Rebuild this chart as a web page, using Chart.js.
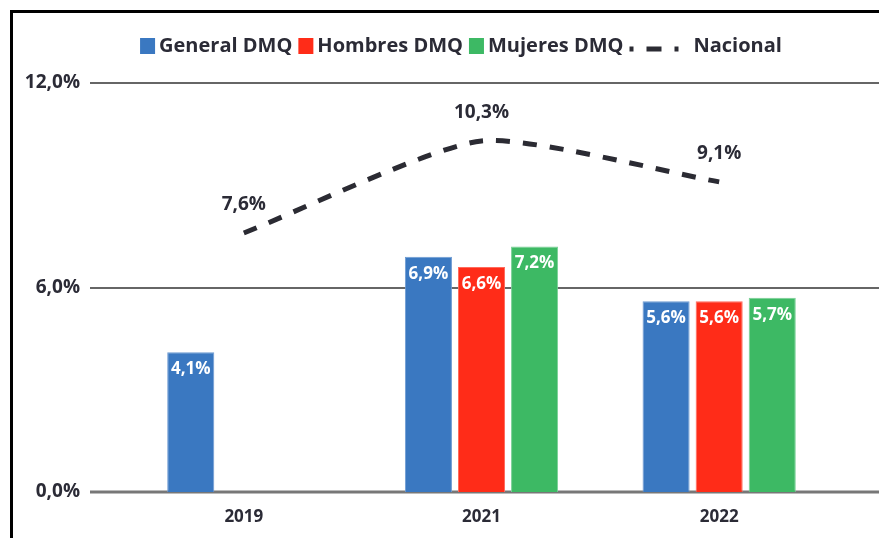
<!DOCTYPE html>
<html>
<head>
<meta charset="utf-8">
<script src="https://cdn.jsdelivr.net/npm/chart.js@4.4.1/dist/chart.umd.min.js"></script>
<style>
  html, body { margin: 0; padding: 0; background: #fff; }
  #wrap { position: relative; width: 879px; height: 538px; overflow: hidden; }
  #frame { position: absolute; left: 10px; top: 10px; right: -5px; bottom: -5px;
           border-left: 3px solid #000; border-top: 3px solid #000; pointer-events: none; }
</style>
</head>
<body>
<div id="wrap">
  <canvas id="chart" width="879" height="538"></canvas>
  <div id="frame"></div>
</div>
<script>
// Values
var categories = ['2019', '2021', '2022'];
var generalDMQ = [4.1, 6.9, 5.6];
var hombresDMQ = [null, 6.6, 5.6];
var mujeresDMQ = [null, 7.2, 5.7];
var nacional = [7.6, 10.3, 9.1];
var yTicks = [0, 6, 12];

var TEXT = '#2b2b36';
var FONT = '"Open Sans", "DejaVu Sans", sans-serif';

function pct(v) {
    return v.toFixed(1).replace('.', ',') + '%';
}

// Horizontal lines run past the plot area, like in the original
const gridLines = {
    id: 'gridLines',
    beforeDatasetsDraw(chart) {
        const ctx = chart.ctx;
        const y = chart.scales.y;
        ctx.save();
        for (let v of yTicks) {
            const py = Math.round(y.getPixelForValue(v));
            ctx.strokeStyle = v === 0 ? '#777' : '#666';
            ctx.lineWidth = v === 0 ? 3 : 2;
            ctx.beginPath();
            ctx.moveTo(90, py);
            ctx.lineTo(chart.width, py);
            ctx.stroke();
        }
        ctx.restore();
    }
};

// Value labels: white inside the bars, dark above the line
const valueLabels = {
    id: 'valueLabels',
    afterDatasetsDraw(chart) {
        const ctx = chart.ctx;
        ctx.save();
        ctx.textAlign = 'center';
        ctx.textBaseline = 'middle';
        chart.data.datasets.forEach((ds, i) => {
            const meta = chart.getDatasetMeta(i);
            meta.data.forEach((el, j) => {
                const v = ds.data[j];
                if (v === null || v === undefined) return;
                if (meta.type === 'bar') {
                    ctx.font = '700 17px ' + FONT;
                    ctx.fillStyle = '#fff';
                    ctx.fillText(pct(v), el.x, el.y + 17);
                } else {
                    ctx.font = '700 19px ' + FONT;
                    ctx.fillStyle = TEXT;
                    ctx.fillText(pct(v), el.x, el.y - 28);
                }
            });
        });
        ctx.restore();
    }
};

// Legend row at the top, the line item gets a dashed icon
const topLegend = {
    id: 'topLegend',
    afterDraw(chart) {
        const ctx = chart.ctx;
        const items = chart.data.datasets;
        ctx.save();
        ctx.font = '700 20px ' + FONT;
        let widths = items.map(ds => {
            const icon = ds.type === 'line' ? 49 + 15 : 15 + 4;
            return icon + ctx.measureText(ds.label).width;
        });
        let total = widths.reduce((a, b) => a + b, 0) + 6 * (items.length - 1);
        let x = 461 - total / 2;
        items.forEach((ds, i) => {
            if (ds.type === 'line') {
                ctx.strokeStyle = ds.borderColor;
                ctx.lineWidth = 5;
                ctx.setLineDash([15, 13]);
                ctx.lineDashOffset = 11;
                ctx.beginPath();
                ctx.moveTo(x, 49);
                ctx.lineTo(x + 49, 49);
                ctx.stroke();
                ctx.setLineDash([]);
                ctx.fillStyle = TEXT;
                ctx.textBaseline = 'alphabetic';
                ctx.fillText(ds.label, x + 64, 52);
            } else {
                ctx.fillStyle = ds.backgroundColor;
                ctx.fillRect(x, 38, 15, 16);
                ctx.fillStyle = TEXT;
                ctx.textBaseline = 'alphabetic';
                ctx.fillText(ds.label, x + 19, 52);
            }
            x += widths[i] + 6;
        });
        ctx.restore();
    }
};

const barStyle = { categoryPercentage: 0.67, barPercentage: 0.887, borderWidth: 1, borderSkipped: 'bottom' };

new Chart(document.getElementById('chart'), {
    data: {
        labels: categories,
        datasets: [
            Object.assign({ type: 'bar', label: 'General DMQ', data: generalDMQ,
                backgroundColor: '#3a78c1', borderColor: '#6d9ad2', order: 2 }, barStyle),
            Object.assign({ type: 'bar', label: 'Hombres DMQ', data: hombresDMQ,
                backgroundColor: '#ff2c18', borderColor: '#ff6a5c', order: 2 }, barStyle),
            Object.assign({ type: 'bar', label: 'Mujeres DMQ', data: mujeresDMQ,
                backgroundColor: '#3db964', borderColor: '#79d096', order: 2 }, barStyle),
            {
                type: 'line', label: 'Nacional', data: nacional,
                borderColor: '#2b2b33', backgroundColor: '#2b2b33',
                borderWidth: 5, borderDash: [14, 13], tension: 0.2,
                pointRadius: 0, fill: false, order: 1
            }
        ]
    },
    options: {
        responsive: false,
        devicePixelRatio: 1,
        animation: false,
        layout: { padding: { left: 20, right: 41, top: 83, bottom: 0 } },
        plugins: {
            legend: { display: false },
            tooltip: { enabled: false }
        },
        scales: {
            x: {
                grid: { display: false, drawTicks: false },
                border: { display: false },
                ticks: { color: TEXT, font: { family: FONT, size: 17, weight: '700' }, padding: 15 },
                afterFit(scale) { scale.height = 46; }
            },
            y: {
                min: 0,
                max: 12,
                grid: { display: false, drawTicks: false },
                border: { display: false },
                afterBuildTicks(scale) { scale.ticks = yTicks.map(v => ({ value: v })); },
                ticks: {
                    color: TEXT,
                    font: { family: FONT, size: 19, weight: '700' },
                    padding: 45,
                    callback: v => pct(v)
                },
                afterFit(scale) {
                    scale.width = 105;
                    // the big label gap should not eat into the plot height
                    scale.paddingTop = 0;
                    scale.paddingBottom = 0;
                }
            }
        }
    },
    plugins: [gridLines, valueLabels, topLegend]
});
</script>
</body>
</html>
